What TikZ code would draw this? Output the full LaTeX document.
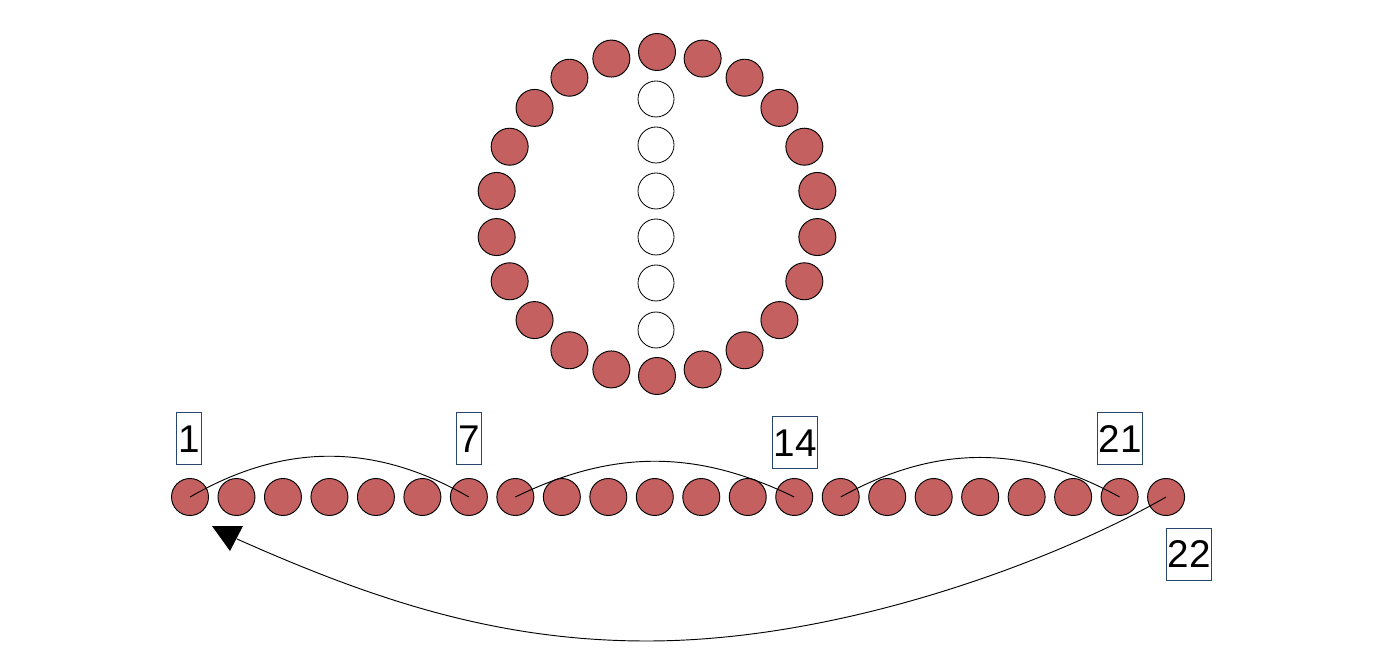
\documentclass[tikz,border=0pt]{standalone}
\usepackage{fontspec}
\setmainfont{Liberation Sans}
\definecolor{beadred}{RGB}{196,96,96}
\definecolor{boxblue}{RGB}{40,70,110}
\begin{document}
\begin{tikzpicture}[x=0.75pt,y=-0.75pt,
  bead/.style={circle,draw=black,line width=0.7pt,fill=beadred,minimum size=27.75pt,inner sep=0pt},
  hole/.style={circle,draw=black,line width=0.6pt,fill=white,minimum size=27pt,inner sep=0pt},
  lab/.style={draw=boxblue,line width=0.75pt,font=\fontsize{29}{29}\selectfont,inner xsep=1pt,inner ysep=0pt,minimum height=39pt},
  link/.style={draw=black,line width=0.7pt}]
\useasboundingbox (0,0) rectangle (1390,670);
% ring of beads
\foreach \i in {0,...,21}
  \node[bead] (r\i) at ({657+162*sin(\i*360/22)},{214-162*cos(\i*360/22)}) {};
% empty holes
\foreach \j/\y in {1/99,2/145,3/191,4/237,5/283,6/330}
  \node[hole] (h\j) at (656,\y) {};
% row of beads
\foreach \k in {1,...,22}
  \node[bead] (c\k) at ({190+(\k-1)*46.48},497) {};
% labels
\node[lab] (l1) at (189,439) {1};
\node[lab] (l7) at (469,439) {7};
\node[lab] (l14) at (795,443) {14};
\node[lab] (l21) at (1120,439) {21};
\node[lab] (l22) at (1189,554) {22};
% arcs
\draw[link] (c1.center) to[out=30,in=150] (c7.center);
\draw[link] (c8.center) to[out=26,in=154] (c14.center);
\draw[link] (c15.center) to[out=29,in=151] (c21.center);
% return arc
\coordinate (bot) at (647,641);
\coordinate (tip) at (237,539);
\draw[link] (c22.center) .. controls +(-104,60) and +(200,0) .. (bot)
  .. controls +(-150,0) and +(137,61) .. (tip);
\fill[black] (212,526) -- (243,526) -- (230,551) -- cycle;
\end{tikzpicture}
\end{document}
